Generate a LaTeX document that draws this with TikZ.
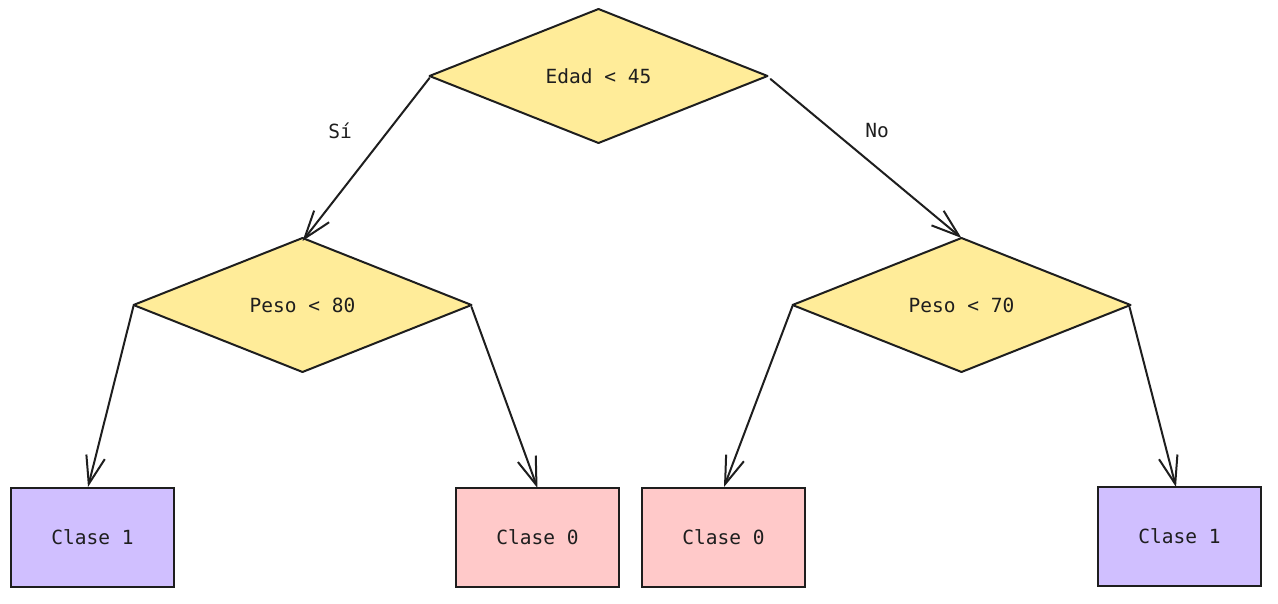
\documentclass[tikz,border=0pt]{standalone}
\usepackage{fontspec}
\setmonofont{DejaVu Sans Mono}
\usetikzlibrary{shapes.geometric,arrows.meta,calc}
\definecolor{ink}{HTML}{1E1E1E}
\definecolor{cyellow}{HTML}{FFEC99}
\definecolor{cpurple}{HTML}{D0BFFF}
\definecolor{cpink}{HTML}{FFC9C9}
\tikzset{
  every node/.style={font=\ttfamily\fontsize{19.5}{22}\selectfont, text=ink},
  decision/.style={diamond, draw=ink, fill=cyellow, line width=2pt, inner sep=0pt, outer sep=0pt, minimum width=338pt, minimum height=134pt, line join=round},
  leaf/.style={rectangle, draw=ink, line width=2pt, inner sep=0pt, outer sep=0pt, minimum width=163pt, minimum height=99pt},
  class1/.style={leaf, fill=cpurple},
  class0/.style={leaf, fill=cpink},
  conn/.style={draw=ink, line width=2pt, line cap=round, -{Straight Barb[length=28pt,width=19pt,line width=2pt]}},
  edgelabel/.style={inner sep=0pt}
}
\begin{document}
\begin{tikzpicture}[x=1pt,y=1pt]
\useasboundingbox (0,0) rectangle (1278,-604);
\node[decision] (root) at (598.5,-76) {Edad < 45};
\node[decision] (left) at (302.5,-305) {Peso < 80};
\node[decision] (right) at (961.5,-305) {Peso < 70};
\node[class1] (b1) at (92.5,-537.5) {Clase 1};
\node[class0] (b2) at (537.5,-537.5) {Clase 0};
\node[class0] (b3) at (723.5,-537.5) {Clase 0};
\node[class1] (b4) at (1179.5,-536.5) {Clase 1};
\draw[conn] ($(root.west)+(0,-2)$) -- ($(left.north)+(0,-3)$);
\draw[conn] ($(root.east)+(3,-3)$) -- (right.north);
\draw[conn] ($(left.west)+(0,-1)$) -- ($(b1.north)+(-4.5,1)$);
\draw[conn] ($(left.east)+(0,-2)$) -- (b2.north);
\draw[conn] ($(right.west)+(0,-1)$) -- ($(b3.north)+(0.5,1)$);
\draw[conn] ($(right.east)+(-1,-2)$) -- ($(b4.north)+(-3.5,0)$);
\node[edgelabel] (lsi) at (340,-131) {Sí};
\node[edgelabel] (lno) at (877,-131) {No};
\end{tikzpicture}
\end{document}
